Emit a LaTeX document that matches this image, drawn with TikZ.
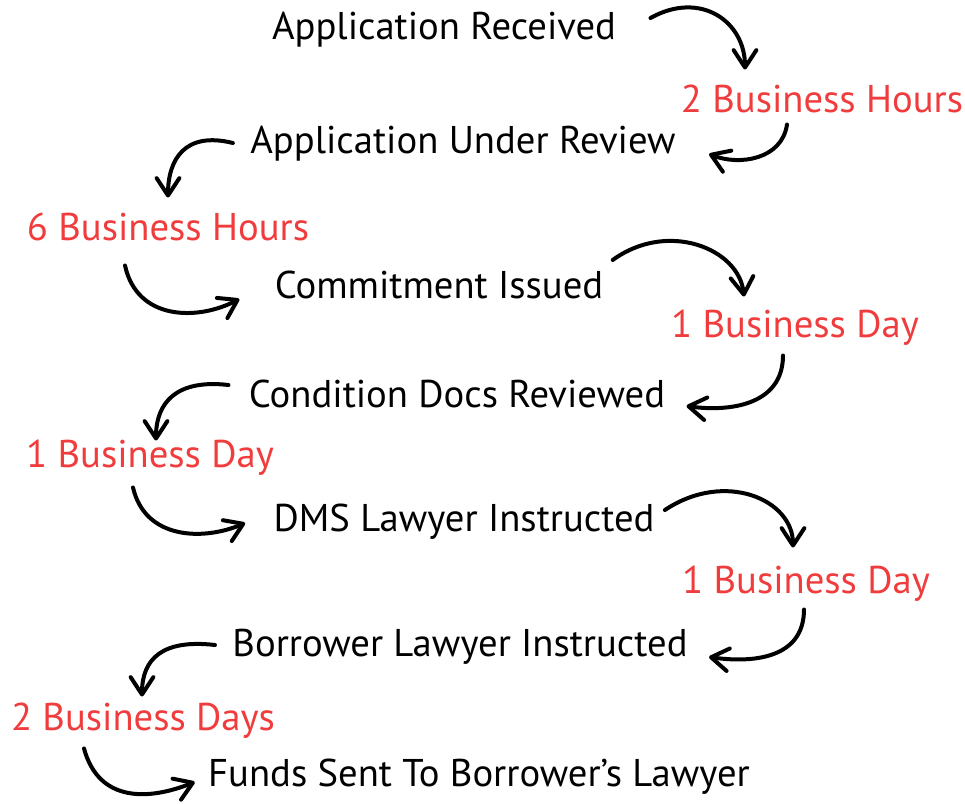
\documentclass[tikz,border=0pt]{standalone}
\usepackage{fontspec}
\setmainfont{PT Sans}
\usetikzlibrary{arrows.meta}
\definecolor{timered}{RGB}{240,60,60}
\tikzset{every picture/.style={line width=0.75pt}}
\tikzset{
  stage/.style={anchor=base, inner sep=0pt, text height=21pt, text depth=6pt, font=\fontsize{29}{34}\selectfont},
  wait/.style={stage, text=timered},
  flow/.style={line width=3pt, line cap=round, -{Straight Barb[length=13pt,width=17pt,line cap=round,line join=round]}}
}
\begin{document}
\begin{tikzpicture}[x=0.75pt,y=0.75pt,yscale=-1,xscale=1]
    \useasboundingbox (0,0) rectangle (965,804);

    % Text Node
    \node [stage] (rcv) at (444,39) {Application Received};
    % Text Node
    \node [wait] (h2) at (822,112) {2 Business Hours};
    % Text Node
    \node [stage] (rev) at (463,153) {Application Under Review};
    % Text Node
    \node [wait] (h6) at (168,240) {6 Business Hours};
    % Text Node
    \node [stage] (iss) at (439,298) {Commitment Issued};
    % Text Node
    \node [wait] (d1) at (795,337) {1 Business Day};
    % Text Node
    \node [stage] (cdr) at (457,407) {Condition Docs Reviewed};
    % Text Node
    \node [wait] (d2) at (150,467) {1 Business Day};
    % Text Node
    \node [stage] (dms) at (464,531) {DMS Lawyer Instructed};
    % Text Node
    \node [wait] (d3) at (806,593) {1 Business Day};
    % Text Node
    \node [stage] (blw) at (460,656) {Borrower Lawyer Instructed};
    % Text Node
    \node [wait] (dd2) at (143,730) {2 Business Days};
    % Text Node
    \node [stage] (fnd) at (479,786) {Funds Sent To Borrower’s Lawyer};

    %Curved Arrows
    \draw [flow] ([shift={(34,-11)}]rcv.east) .. controls +(50,-28) and +(0,-48) .. ([shift={(-77,-14)}]h2.north);
    \draw [flow] ([shift={(-35,4)}]h2.south) .. controls +(-5,35) and +(30,12) .. ([shift={(33,11)}]rev.east);
    \draw [flow] ([shift={(-17,0)}]rev.west) .. controls +(-48,-12) and +(0,-38) .. ([shift={(0,-14)}]h6.north);
    \draw [flow] ([shift={(-43,17)}]h6.south) .. controls +(12,55) and +(-42,22) .. ([shift={(-35,11)}]iss.west);
    \draw [flow] ([shift={(9,-28)}]iss.east) .. controls +(55,-40) and +(-5,-48) .. ([shift={(-51,-12)}]d1.north);
    \draw [flow] ([shift={(-12,10)}]d1.south) .. controls +(0,50) and +(42,6) .. ([shift={(21,9)}]cdr.east);
    \draw [flow] ([shift={(-20,-12)}]cdr.west) .. controls +(-52,-6) and +(0,-38) .. ([shift={(6,2)}]d2.north);
    \draw [flow] ([shift={(-17,12)}]d2.south) .. controls +(12,52) and +(-42,18) .. ([shift={(-28,2)}]dms.west);
    \draw [flow] ([shift={(10,-11)}]dms.east) .. controls +(60,-40) and +(0,-48) .. ([shift={(-13,-17)}]d3.north);
    \draw [flow] ([shift={(-2,8)}]d3.south) .. controls +(0,50) and +(42,6) .. ([shift={(21,11)}]blw.east);
    \draw [flow] ([shift={(-17,-1)}]blw.west) .. controls +(-52,-6) and +(0,-38) .. ([shift={(-1,-5)}]dd2.north);
    \draw [flow] ([shift={(-59,10)}]dd2.south) .. controls +(15,55) and +(-45,18) .. ([shift={(-13,6)}]fnd.west);

\end{tikzpicture}
\end{document}
